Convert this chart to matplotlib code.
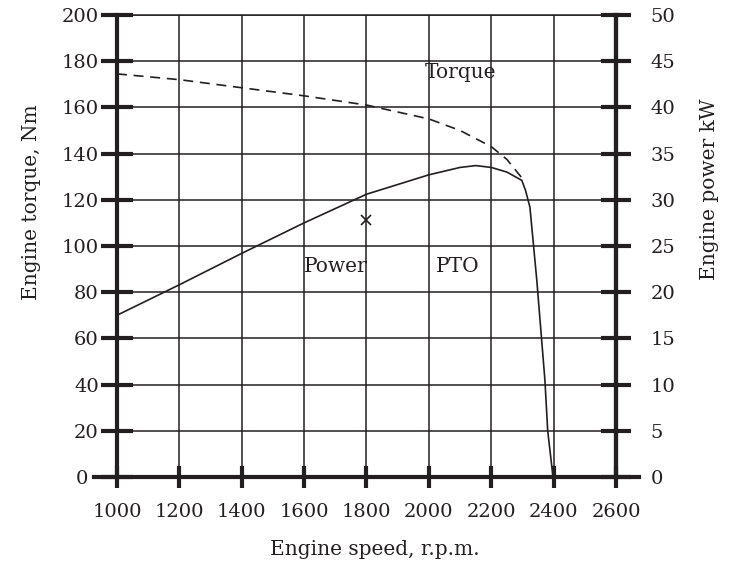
import matplotlib
matplotlib.use("Agg")
import matplotlib.pyplot as plt
from matplotlib.transforms import ScaledTranslation

# torque curve (Nm)
rpm_torque = [1000, 1200, 1400, 1600, 1800, 2000, 2100, 2200, 2250, 2298]
torque = [174.5, 172, 168.5, 165, 161, 155, 150, 143, 137.5, 129.5]

# power curve (kW, right axis)
rpm_power = [1000, 1200, 1400, 1600, 1800, 2000, 2100, 2150, 2200, 2250,
             2298, 2310, 2324, 2346, 2372, 2381, 2398]
power = [17.5, 20.8, 24.2, 27.5, 30.6, 32.7, 33.5, 33.7, 33.5, 33.0,
         32.1, 31.0, 29.2, 21.3, 10.5, 5.0, 0.0]

# PTO point
pto_rpm = [1800]
pto_torque = [111.3]

xticks = list(range(1000, 2601, 200))
yticks_left = list(range(0, 201, 20))
yticks_right = list(range(0, 51, 5))

ink = "#231f20"
plt.rcParams["font.family"] = ["DejaVu Serif"]
plt.rcParams["font.size"] = 14

fig = plt.figure(figsize=(7.31, 5.63), dpi=100)
ax = fig.add_axes([0.160, 0.1528, 0.6827, 0.8206])
ax.set_xlim(1000, 2600)
ax.set_ylim(0, 200)
ax.set_xticks(xticks)
ax.set_yticks(yticks_left)
ax.grid(True, color=ink, lw=1.1)
ax.set_axisbelow(True)

for side in ["left", "bottom", "right"]:
    ax.spines[side].set_linewidth(3)
    ax.spines[side].set_color(ink)
ax.spines["top"].set_linewidth(1.1)
ax.spines["top"].set_color(ink)
# the zero line runs a little past both vertical axes
ax.spines["bottom"].set_bounds(925, 2675)

ax.tick_params(axis="y", direction="inout", length=23, width=3, pad=1.5, colors=ink)
ax.tick_params(axis="x", direction="inout", length=16, width=3, pad=11, colors=ink)

# push the left "0" clear of the longer zero line
zero_lab = ax.yaxis.get_major_ticks()[0].label1
zero_lab.set_transform(zero_lab.get_transform() +
                       ScaledTranslation(-8 / 72, 0, fig.dpi_scale_trans))

ax.plot(rpm_torque, torque, color=ink, lw=1.2, ls=(0, (6, 4)))
ax.plot(pto_rpm, pto_torque, "x", color=ink, ms=7, mew=1.2)

ax.text(2103, 174.9, "Torque", ha="center", va="center", color=ink, fontsize=14.5)
ax.text(1700, 91, "Power", ha="center", va="center", color=ink, fontsize=14.5)
ax.text(2093, 91, "PTO", ha="center", va="center", color=ink, fontsize=14.5)

ax.set_xlabel("Engine speed, r.p.m.", color=ink, fontsize=14.5)
ax.xaxis.set_label_coords(0.517, -0.136)
ax.set_ylabel("Engine torque, Nm", color=ink, fontsize=14.5)
ax.yaxis.set_label_coords(-0.152, 0.595)

ax2 = ax.twinx()
ax2.set_ylim(0, 50)
ax2.set_yticks(yticks_right)
ax2.plot(rpm_power, power, color=ink, lw=1.2)
for side in ["left", "bottom", "top"]:
    ax2.spines[side].set_visible(False)
ax2.spines["right"].set_linewidth(3)
ax2.spines["right"].set_color(ink)
ax2.tick_params(axis="y", direction="inout", length=22, width=3, pad=14, colors=ink)
ax2.set_ylabel("Engine power kW", color=ink, fontsize=14.5)
ax2.yaxis.set_label_coords(1.168, 0.623)

fig.savefig("out.png", dpi=100)
